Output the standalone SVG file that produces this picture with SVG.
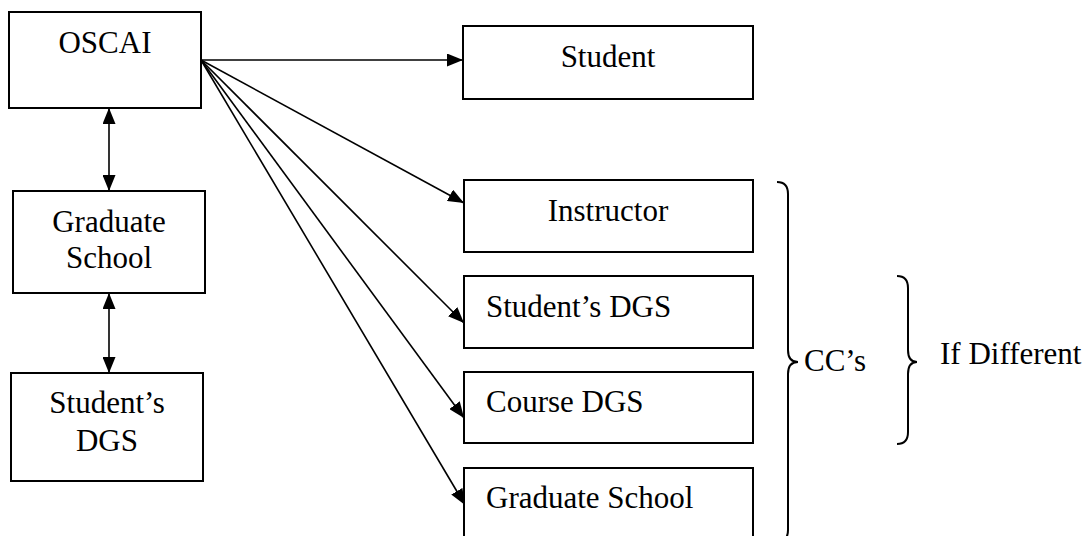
<svg xmlns="http://www.w3.org/2000/svg" width="1089" height="536" viewBox="0 0 1089 536">
<style>
.box{fill:#fff;stroke:#000;stroke-width:2}
.t{font-family:"Liberation Serif","Times New Roman",serif;font-size:31px;fill:#000}
.c{text-anchor:middle}
.ln{stroke:#000;stroke-width:1.6;fill:none}
.br{stroke:#000;stroke-width:2;fill:none}
</style>
<defs>
<marker id="ah" viewBox="0 0 16 13" refX="16" refY="6.5" markerWidth="16" markerHeight="13" markerUnits="userSpaceOnUse" orient="auto-start-reverse">
<path d="M0,0 L16,6.5 L0,13 Z" fill="#000"/>
</marker>
</defs>
<rect width="1089" height="536" fill="#fff"/>
<g id="connectors">
<line class="ln" x1="201" y1="60" x2="463" y2="60" marker-end="url(#ah)"/>
<line class="ln" x1="201" y1="60" x2="464" y2="203" marker-end="url(#ah)"/>
<line class="ln" x1="201" y1="60" x2="464" y2="323" marker-end="url(#ah)"/>
<line class="ln" x1="201" y1="60" x2="464" y2="418" marker-end="url(#ah)"/>
<line class="ln" x1="201" y1="60" x2="465" y2="505" marker-end="url(#ah)"/>
<line class="ln" x1="109" y1="108" x2="109" y2="191" marker-start="url(#ah)" marker-end="url(#ah)"/>
<line class="ln" x1="109" y1="293" x2="109" y2="373" marker-start="url(#ah)" marker-end="url(#ah)"/>
</g>
<g id="oscai"><rect class="box" x="9" y="12" width="192" height="96"/><text class="t c" x="105" y="53">OSCAI</text></g>
<g id="gradschool-left"><rect class="box" x="13" y="191" width="192" height="102"/><text class="t c" x="109" y="232">Graduate</text><text class="t c" x="109" y="268">School</text></g>
<g id="studentsdgs-left"><rect class="box" x="11" y="373" width="192" height="108"/><text class="t c" x="107" y="413">Student’s</text><text class="t c" x="107" y="451">DGS</text></g>
<g id="student"><rect class="box" x="463" y="26" width="290" height="73"/><text class="t c" x="608" y="67">Student</text></g>
<g id="instructor"><rect class="box" x="464" y="180" width="289" height="72"/><text class="t c" x="608" y="221">Instructor</text></g>
<g id="studentsdgs-right"><rect class="box" x="464" y="276" width="289" height="72"/><text class="t" x="486" y="317">Student’s DGS</text></g>
<g id="coursedgs"><rect class="box" x="464" y="372" width="289" height="71"/><text class="t" x="486" y="412">Course DGS</text></g>
<g id="gradschool-right"><rect class="box" x="464" y="468" width="289" height="80"/><text class="t" x="486" y="508">Graduate School</text></g>
<g id="cc-brace"><path class="br" d="M777,182 Q788,182 788,194 L788,350 Q788,362 798,362 Q788,362 788,374 L788,530 Q788,542 777,542"/><text class="t" x="804" y="371">CC’s</text></g>
<g id="ifdiff-brace"><path class="br" d="M897,276 Q908,276 908,288 L908,350 Q908,362 917,362 Q908,362 908,374 L908,432 Q908,444 897,444"/><text class="t" x="940" y="364">If Different</text></g>
</svg>
